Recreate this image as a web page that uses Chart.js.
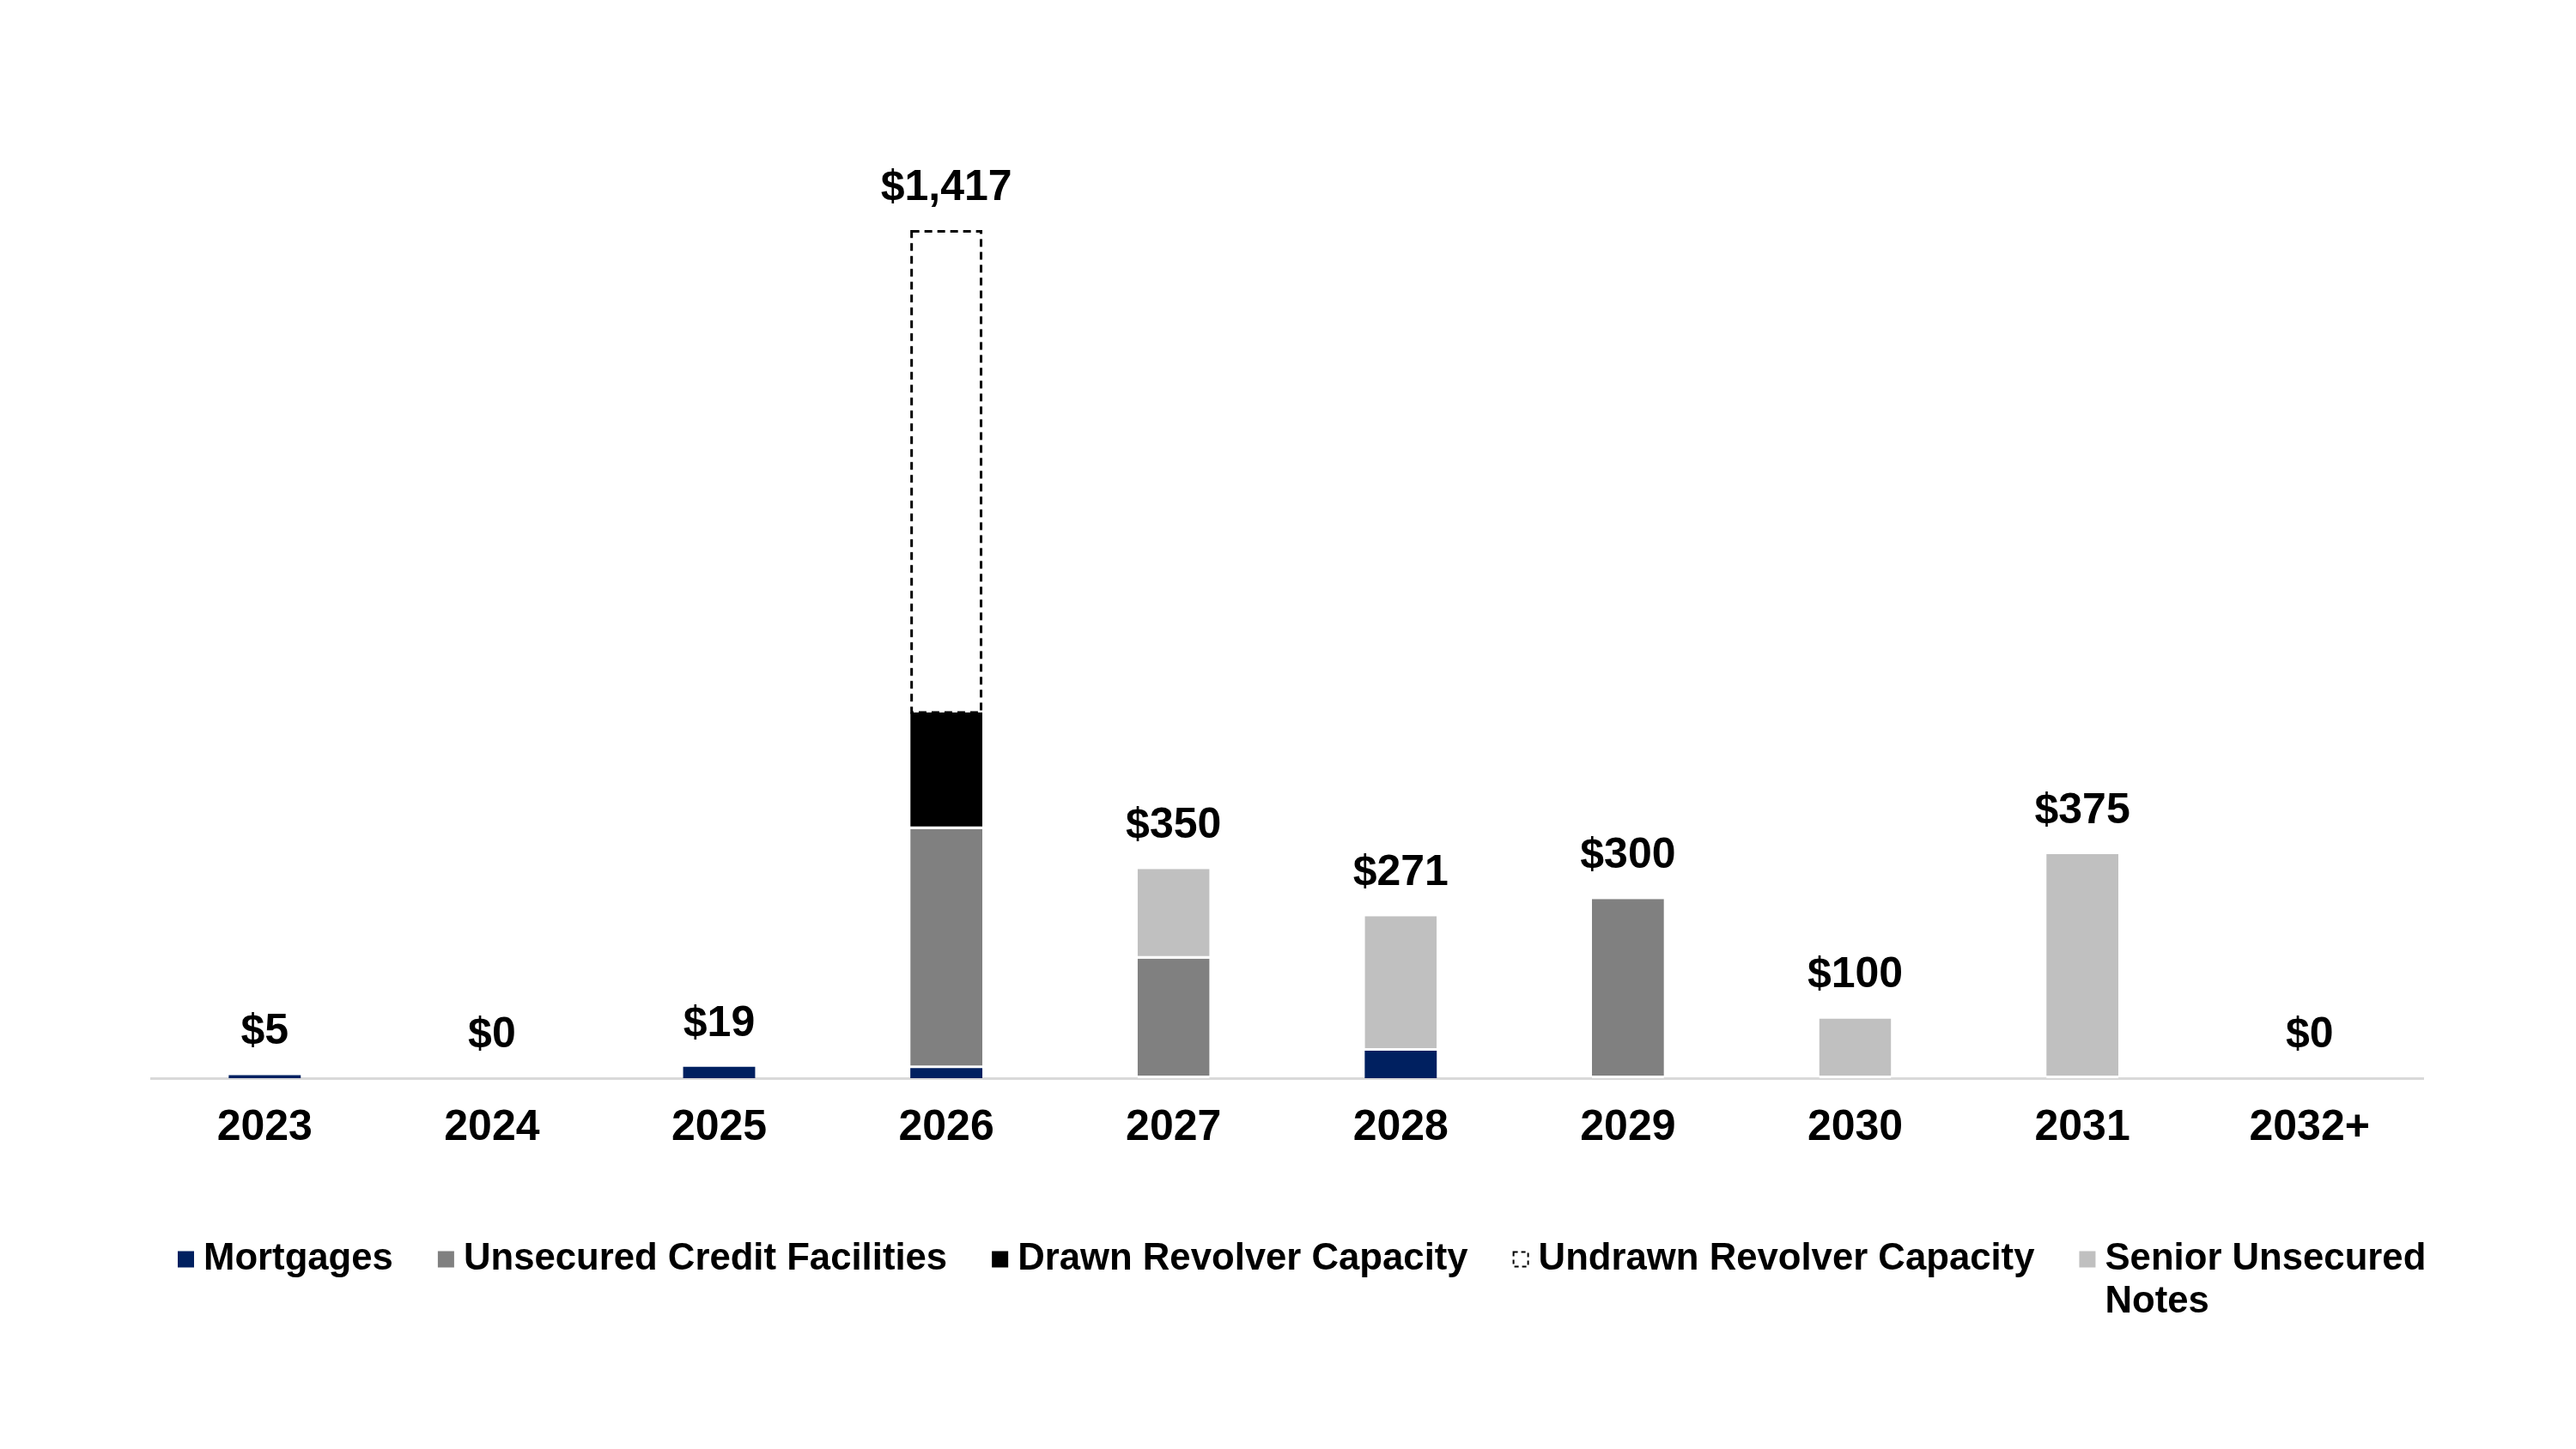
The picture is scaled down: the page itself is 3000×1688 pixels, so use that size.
<!DOCTYPE html>
<html>
<head>
<meta charset="utf-8">
<script src="https://cdn.jsdelivr.net/npm/chart.js@4.4.1/dist/chart.umd.min.js"></script>
<style>
  html, body { margin: 0; padding: 0; background: #ffffff; }
  canvas { display: block; }
</style>
</head>
<body>
<canvas id="myCanvas" width="3000" height="1688"></canvas>
<script>
const years = ['2023', '2024', '2025', '2026', '2027', '2028', '2029', '2030', '2031', '2032+'];

// $ millions
const mortgages         = [5, 0, 19, 17, 0, 46, 0, 0, 0, 0];
const unsecuredCredit   = [0, 0, 0, 400, 200, 0, 300, 0, 0, 0];
const drawnRevolver     = [0, 0, 0, 195, 0, 0, 0, 0, 0, 0];
const undrawnRevolver   = [0, 0, 0, 805, 0, 0, 0, 0, 0, 0];
const seniorNotes       = [0, 0, 0, 0, 150, 225, 0, 100, 375, 0];

const seriesNames = ['Mortgages', 'Unsecured Credit Facilities', 'Drawn Revolver Capacity',
                     'Undrawn Revolver Capacity', ['Senior Unsecured', 'Notes']];
const seriesColors = ['#002060', '#808080', '#000000', '#ffffff', '#c0c0c0'];

const FONT = '"Liberation Sans", Arial, sans-serif';

const sep = { top: 0, left: 0, right: 0, bottom: 3 };

const data = {
  labels: years,
  datasets: [
    { label: 'Mortgages', data: mortgages, backgroundColor: seriesColors[0], borderWidth: 0 },
    { label: 'Unsecured Credit Facilities', data: unsecuredCredit, backgroundColor: seriesColors[1],
      borderColor: '#ffffff', borderWidth: sep, borderSkipped: false },
    { label: 'Drawn Revolver Capacity', data: drawnRevolver, backgroundColor: seriesColors[2],
      borderColor: '#ffffff', borderWidth: sep, borderSkipped: false },
    { label: 'Undrawn Revolver Capacity', data: undrawnRevolver, backgroundColor: 'rgba(0,0,0,0)', borderWidth: 0 },
    { label: 'Senior Unsecured Notes', data: seniorNotes, backgroundColor: seriesColors[4],
      borderColor: '#ffffff', borderWidth: sep, borderSkipped: false },
  ]
};

// dashed outline for the undrawn revolver, totals on top, and the legend
const extras = {
  id: 'extras',
  afterDatasetsDraw(chart) {
    const ctx = chart.ctx;
    const meta = chart.getDatasetMeta(3);
    ctx.save();
    ctx.strokeStyle = '#000000';
    ctx.lineWidth = 3;
    ctx.setLineDash([9, 6]);
    meta.data.forEach((bar, i) => {
      if (!undrawnRevolver[i]) return;
      const w = bar.width;
      ctx.strokeRect(bar.x - w / 2 + 1.5, bar.y, w - 3, bar.base - bar.y);
    });
    ctx.restore();

    // totals
    const yScale = chart.scales.y;
    const xScale = chart.scales.x;
    ctx.save();
    ctx.fillStyle = '#000000';
    ctx.font = 'bold 50px ' + FONT;
    ctx.textAlign = 'center';
    ctx.textBaseline = 'middle';
    years.forEach((yr, i) => {
      const total = mortgages[i] + unsecuredCredit[i] + drawnRevolver[i] + undrawnRevolver[i] + seniorNotes[i];
      const x = xScale.getPixelForValue(i);
      const y = yScale.getPixelForValue(total) - 50;
      ctx.fillText('$' + total.toLocaleString('en-US'), x, y);
    });
    ctx.restore();
  },
  afterDraw(chart) {
    const ctx = chart.ctx;
    ctx.save();
    ctx.font = 'bold 43.7px ' + FONT;
    ctx.textBaseline = 'middle';
    ctx.fillStyle = '#000000';
    let x = 207;
    const y = 1467;
    const box = 19;
    seriesNames.forEach((name, i) => {
      const lines = Array.isArray(name) ? name : [name];
      if (i === 3) {
        ctx.save();
        ctx.fillStyle = '#ffffff';
        ctx.fillRect(x, y - box / 2, box, box);
        ctx.strokeStyle = '#000000';
        ctx.lineWidth = 2;
        ctx.setLineDash([5, 4]);
        ctx.strokeRect(x + 1, y - box / 2 + 1, box - 2, box - 2);
        ctx.restore();
      } else {
        ctx.fillStyle = seriesColors[i];
        ctx.fillRect(x, y - box / 2, box, box);
      }
      ctx.fillStyle = '#000000';
      const tx = x + box + 11;
      let maxW = 0;
      lines.forEach((ln, j) => {
        ctx.fillText(ln, tx, y + j * 50);
        maxW = Math.max(maxW, ctx.measureText(ln).width);
      });
      x = tx + maxW + 52;
    });
    ctx.restore();
  }
};

const configurationOptions = {
  type: 'bar',
  data: data,
  options: {
    responsive: false,
    animation: false,
    devicePixelRatio: 1,
    layout: {
      padding: { left: 176, right: 178, top: 142, bottom: 316 }
    },
    datasets: {
      bar: { barPercentage: 0.317, categoryPercentage: 1.0 }
    },
    plugins: {
      legend: { display: false },
      tooltip: { enabled: false }
    },
    scales: {
      x: {
        stacked: true,
        grid: { display: false, drawTicks: false },
        border: { display: true, color: '#d9d9d9', width: 3 },
        ticks: {
          color: '#000000',
          padding: 28,
          maxRotation: 0,
          autoSkip: false,
          font: { family: FONT, size: 50, weight: 'bold' }
        }
      },
      y: {
        stacked: true,
        display: false,
        min: 0,
        max: 1600
      }
    }
  },
  plugins: [extras]
};

const ctx = document.getElementById('myCanvas');
const myChart = new Chart(ctx, configurationOptions);
</script>
</body>
</html>
